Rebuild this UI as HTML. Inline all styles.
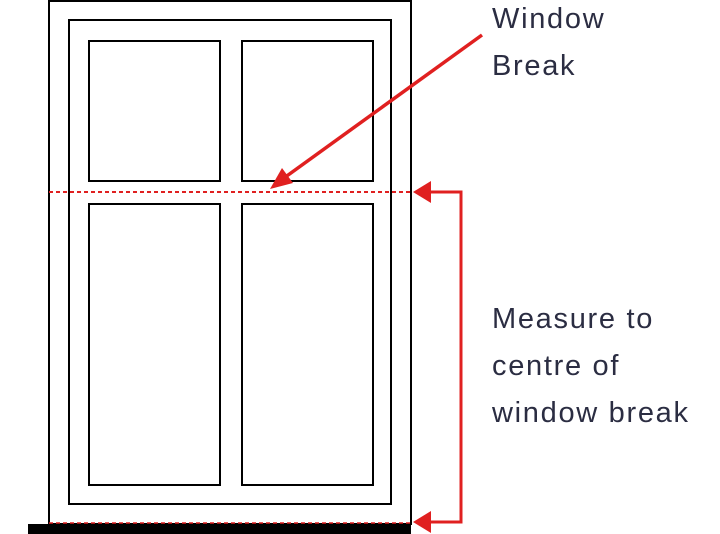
<!DOCTYPE html>
<html><head><style>
html,body{margin:0;padding:0;background:#fff;width:720px;height:534px;overflow:hidden}
svg{display:block}
text{font-family:"Liberation Sans",sans-serif;font-size:29px;fill:#2b2d42;letter-spacing:1.7px}
</style></head><body>
<svg width="720" height="534" viewBox="0 0 720 534" xmlns="http://www.w3.org/2000/svg">
<g fill="none" stroke="#000" stroke-width="2">
<rect x="49" y="1" width="362" height="523"/>
<rect x="69" y="20" width="322" height="484"/>
<rect x="89" y="41" width="131" height="140"/>
<rect x="242" y="41" width="131" height="140"/>
<rect x="89" y="204" width="131" height="281"/>
<rect x="242" y="204" width="131" height="281"/>
</g>
<rect x="28" y="524" width="383" height="10" fill="#000"/>
<line x1="49" y1="192" x2="413" y2="192" stroke="#e02020" stroke-width="2" stroke-dasharray="4,3"/>
<line x1="49" y1="523" x2="411" y2="523" stroke="#e02020" stroke-width="1.5" stroke-dasharray="4,3"/>
<polyline points="428,192 461,192 461,522 428,522" fill="none" stroke="#e02020" stroke-width="3"/>
<polygon points="413,192 431,181 431,203" fill="#e02020"/>
<polygon points="413,522 431,511 431,533" fill="#e02020"/>
<line x1="482" y1="35" x2="284" y2="178" stroke="#e02020" stroke-width="3.5"/>
<polygon points="270,189 282,168 293,183" fill="#e02020"/>
<text x="492" y="28">Window</text>
<text x="492" y="75">Break</text>
<text x="492" y="328">Measure to</text>
<text x="492" y="375">centre of</text>
<text x="492" y="422">window break</text>
</svg>
</body></html>
